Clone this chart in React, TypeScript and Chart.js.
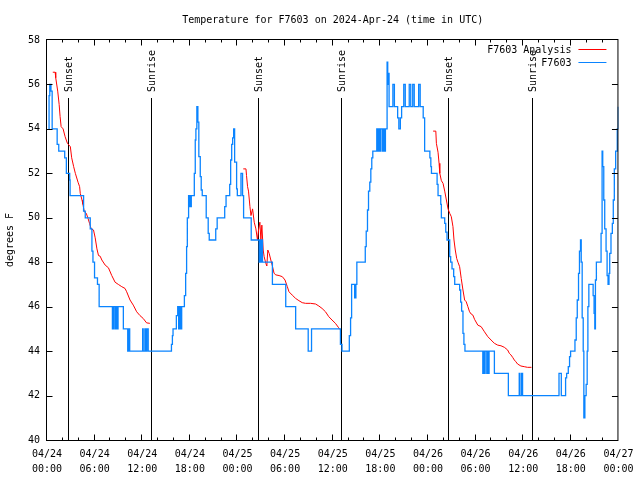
import React, { useEffect, useRef } from "react";
import { Chart, registerables } from "chart.js";

Chart.register(...registerables);

const TITLE = "Temperature for F7603 on 2024-Apr-24 (time in UTC)";
const Y_LABEL = "degrees F";
const SERIES_NAMES = ["F7603 Analysis", "F7603"];
const SERIES_COLORS = ["#ff0000", "#0a84ff"];

const X_TICK_DATES = ["04/24", "04/24", "04/24", "04/24", "04/25", "04/25", "04/25", "04/25", "04/26", "04/26", "04/26", "04/26", "04/27"];
const X_TICK_TIMES = ["00:00", "06:00", "12:00", "18:00", "00:00", "06:00", "12:00", "18:00", "00:00", "06:00", "12:00", "18:00", "00:00"];

// hours since 2024-04-24 00:00 UTC
const SUN_TIMES = [2.73, 13.25, 26.65, 37.17, 50.65, 61.21];
const SUN_LABELS = ["Sunset", "Sunrise", "Sunset", "Sunrise", "Sunset", "Sunrise"];
const SUN_LINE_TOP = 55.4;

// Observations (F7603): value changes at these hours
const OBS_TIMES = [
  0.23, 0.26, 0.35, 0.5, 0.65, 1.28, 1.48, 2.23, 2.44, 2.86, 2.91, 4.61, 4.82, 5.45, 5.66, 5.79, 5.99, 6.36, 6.57, 8.24,
  8.36, 8.54, 8.67, 8.83, 8.95, 9.62, 10.17, 10.29, 10.42, 12.05, 12.12, 12.33, 12.46, 12.58, 12.75,
  15.68, 15.8, 15.88, 16.3, 16.47, 16.59, 16.72, 16.84, 16.97, 17.31, 17.47, 17.59, 17.68, 17.84, 17.93, 18.01, 18.09,
  18.18, 18.56, 18.68, 18.76, 18.88, 19.01, 19.13, 19.31, 19.43, 19.56, 20.06, 20.31, 20.44, 21.26, 21.44, 22.39, 22.56,
  23.02, 23.14, 23.27, 23.39, 23.52, 23.64, 23.89, 23.98, 24.44, 24.64, 24.77,
  25.73, 26.73, 26.82, 26.95, 27.02, 27.15, 28.4, 30.08, 31.33, 32.91, 33.33, 36.97, 37.17, 38.09, 38.25, 38.38, 38.76,
  38.92, 39.04, 40.1, 40.22, 40.38, 40.51, 40.67, 40.8, 40.92, 41.05, 41.55, 41.67, 41.8, 41.92, 42.05, 42.26, 42.39,
  42.51, 42.64, 42.85, 42.93, 43.01, 43.1,
  43.58, 43.77, 44.18, 44.33, 44.52, 44.68, 44.95, 45.14, 45.64, 45.83, 46.08, 46.27, 46.83, 47.02, 47.4, 47.58, 48.24,
  48.36, 48.44, 49.15, 49.27, 49.61, 49.69, 50.11, 50.24, 50.4, 50.74, 50.86, 51.03, 51.24, 51.37, 51.99, 52.12, 52.24,
  52.41, 52.53, 52.66,
  54.91, 55.0, 55.12, 55.2, 55.41, 55.5, 55.62, 55.7, 56.37, 58.13, 59.5, 59.58, 59.79, 59.92, 64.51, 64.8, 65.34, 65.47,
  65.68, 65.84, 65.97, 66.52, 66.68, 66.81, 66.97, 67.09, 67.22, 67.31, 67.43, 67.56, 67.64, 67.77, 67.93, 68.06, 68.15,
  68.27, 68.81, 68.93, 69.02, 69.1, 69.22, 69.81, 69.94, 70.02, 70.15, 70.27, 70.44, 70.57, 70.69, 70.81, 70.9, 71.06,
  71.23, 71.35, 71.48, 71.65, 71.85, 71.98,
];
const OBS_TEMPS = [
  54, 55.5, 56, 55.7, 54, 53.3, 53, 52.7, 52, 51.7, 51, 50.3, 50, 49.5, 48.5, 48, 47.3, 47, 46, 45,
  46, 45, 46, 45, 46, 45, 44, 45, 44, 45, 44, 45, 44, 45, 44,
  44.3, 44.7, 45, 45.6, 46, 45, 46, 45, 46, 46.5, 47.5, 48.7, 50, 51, 50.5, 51, 50.5,
  51, 52, 53.5, 54, 55, 54.3, 52.75, 51.85, 51.25, 51, 50, 49.3, 49, 49.5, 50, 50.5, 51,
  51.5, 52.6, 53.3, 53.6, 54, 52.5, 51.3, 51, 52, 51, 50,
  49, 48, 49, 48, 49, 48, 47, 46, 45, 44, 45, 44.3, 44, 44.7, 45.5, 47, 46.4,
  47, 48, 48.7, 49.4, 50.35, 51.2, 51.6, 52.2, 52.7, 53, 54, 53, 54, 53, 54, 53, 54,
  53, 54, 57, 56, 56.5, 55,
  56, 55, 54.5, 54, 54.5, 55, 56, 55, 56, 55, 56, 55, 56, 55, 54.5, 53, 52.7,
  52.3, 52, 51.5, 51, 50.6, 50, 49.75, 49.35, 49, 48.25, 48, 47.7, 47.35, 47, 46.75, 46.2, 45.8,
  44.8, 44.3, 44,
  43, 44, 43, 44, 43, 44, 43, 44, 43, 42, 43, 42, 43, 42, 43, 42, 42.8, 43,
  43.3, 43.75, 44, 44.5, 45.5, 46.3, 47.5, 48.5, 49, 48, 45.5, 44, 41, 42, 42.5, 44, 46,
  47, 46.5, 45.7, 45, 47.2, 48, 49.3, 53, 52.3, 50.8, 49.5, 48.5, 47.4, 47, 47.5, 48.4, 49.3,
  49.75, 50.8, 52.2, 53, 54, 55,
];

// Analysis (F7603 Analysis), three evening runs
const ANA1_TIMES = [0.73, 1.03, 1.1, 1.35, 1.53, 1.65, 1.78, 2.03, 2.28, 2.57, 2.94, 3.11, 3.36, 3.57, 3.91, 4.11, 4.19, 4.41, 4.53, 4.7, 4.95, 5.16, 5.36, 5.57, 5.86, 6.07, 6.29, 6.49, 6.7, 6.91, 7.33, 7.74, 8.16, 8.58, 8.99, 9.42, 9.83, 10.04, 10.46, 10.87, 11.3, 11.71, 12.12, 12.55, 12.96];
const ANA1_TEMPS = [56.55, 56.55, 56.3, 55.7, 55.1, 54.55, 54.1, 54.0, 53.65, 53.35, 53.2, 52.7, 52.3, 52.0, 51.6, 51.4, 51.1, 50.8, 50.6, 50.27, 50.2, 49.98, 49.75, 49.5, 49.45, 49.1, 48.6, 48.3, 48.27, 48.1, 47.87, 47.75, 47.4, 47.1, 47.0, 46.9, 46.82, 46.67, 46.3, 46.07, 45.77, 45.6, 45.47, 45.27, 45.25];
const ANA2_TIMES = [24.73, 25.07, 25.14, 25.27, 25.39, 25.57, 25.7, 25.9, 26.11, 26.32, 26.52, 26.65, 26.82, 26.95, 27.07, 27.24, 27.36, 27.57, 27.7, 27.82, 27.99, 28.2, 28.4, 28.61, 28.83, 29.24, 29.65, 29.99, 30.28, 30.49, 30.9, 31.33, 31.74, 32.16, 32.58, 33.21, 33.84, 34.25, 34.66, 35.09, 35.5, 35.91, 36.34, 36.75, 36.88];
const ANA2_TEMPS = [52.2, 52.2, 51.9, 51.4, 51.2, 50.5, 50.1, 50.4, 49.8, 49.5, 49.0, 49.45, 49.8, 49.0, 49.67, 48.55, 48.25, 47.95, 47.83, 48.55, 48.4, 48.1, 47.83, 47.5, 47.43, 47.4, 47.35, 47.2, 46.9, 46.67, 46.52, 46.37, 46.27, 46.18, 46.15, 46.15, 46.12, 46.03, 45.92, 45.77, 45.55, 45.4, 45.25, 45.05, 44.98];
const ANA3_TIMES = [48.65, 48.99, 49.06, 49.27, 49.4, 49.49, 49.69, 49.9, 50.11, 50.32, 50.53, 50.74, 50.94, 51.15, 51.28, 51.44, 51.62, 51.78, 51.99, 52.19, 52.41, 52.62, 52.82, 53.03, 53.24, 53.44, 53.66, 53.87, 54.28, 54.7, 55.12, 55.54, 55.95, 56.37, 56.79, 57.2, 57.63, 58.04, 58.25, 58.45, 58.67, 58.88, 59.08, 59.29, 59.71, 60.13, 60.54, 61.04];
const ANA3_TEMPS = [53.9, 53.9, 53.35, 52.95, 52.45, 52.0, 51.67, 51.55, 51.2, 50.8, 50.4, 50.2, 50.05, 49.6, 49.0, 48.55, 48.17, 48.0, 47.8, 47.27, 46.75, 46.3, 46.22, 46.0, 45.77, 45.67, 45.62, 45.43, 45.17, 45.1, 44.87, 44.65, 44.5, 44.35, 44.27, 44.24, 44.17, 44.05, 43.9, 43.83, 43.72, 43.6, 43.52, 43.42, 43.33, 43.3, 43.27, 43.27];

const FONT = "'DejaVu Sans Mono', monospace";

const pts = (t: number[], v: number[]) => t.map((x, i) => ({ x, y: v[i] as number | null }));

const framePlugin = {
  id: "gnuFrame",
  beforeDatasetsDraw(chart: any) {
    const { ctx, chartArea: a, scales } = chart;
    const x = scales.x, y = scales.y;
    ctx.save();
    ctx.strokeStyle = "#000";
    ctx.fillStyle = "#000";
    ctx.lineWidth = 1;
    ctx.font = `10px ${FONT}`;
    const yTop = Math.round(y.getPixelForValue(SUN_LINE_TOP));
    SUN_TIMES.forEach((t, i) => {
      const px = Math.round(x.getPixelForValue(t)) - 0.5;
      ctx.beginPath();
      ctx.moveTo(px, yTop);
      ctx.lineTo(px, a.bottom);
      ctx.stroke();
      ctx.save();
      ctx.translate(px + 1, yTop - 6);
      ctx.rotate(-Math.PI / 2);
      ctx.textAlign = "left";
      ctx.textBaseline = "middle";
      ctx.fillText(SUN_LABELS[i], 0, 0);
      ctx.restore();
    });
    ctx.restore();
  },
  afterDatasetsDraw(chart: any) {
    const { ctx, chartArea: a, scales } = chart;
    const x = scales.x, y = scales.y;
    ctx.save();
    ctx.strokeStyle = "#000";
    ctx.lineWidth = 1;
    ctx.strokeRect(a.left - 0.5, a.top - 0.5, a.right - a.left, a.bottom - a.top + 1);
    ctx.beginPath();
    for (let h = 2; h < 72; h += 2) {
      const len = h % 6 === 0 ? 6 : 3;
      const px = Math.round(x.getPixelForValue(h)) - 0.5;
      ctx.moveTo(px, a.bottom + 0.5);
      ctx.lineTo(px, a.bottom + 0.5 - len);
      ctx.moveTo(px, a.top - 0.5);
      ctx.lineTo(px, a.top - 0.5 + len);
    }
    for (let v = 42; v < 58; v += 2) {
      const py = Math.round(y.getPixelForValue(v)) + 0.5;
      ctx.moveTo(a.left - 0.5, py);
      ctx.lineTo(a.left - 0.5 + 6, py);
      ctx.moveTo(a.right - 0.5, py);
      ctx.lineTo(a.right - 0.5 - 6, py);
    }
    ctx.stroke();

    // legend (top right, inside)
    ctx.font = `10px ${FONT}`;
    ctx.fillStyle = "#000";
    ctx.textAlign = "right";
    ctx.textBaseline = "middle";
    SERIES_NAMES.forEach((name, i) => {
      const ly = a.top + 10 + i * 13;
      ctx.fillText(name, a.right - 47, ly);
      ctx.strokeStyle = SERIES_COLORS[i];
      ctx.beginPath();
      ctx.moveTo(a.right - 40, ly - 0.5);
      ctx.lineTo(a.right - 12, ly - 0.5);
      ctx.stroke();
    });
    ctx.restore();
  },
};

export default function App() {
  const ref = useRef<HTMLCanvasElement | null>(null);
  useEffect(() => {
    document.body.style.margin = "0";
    const canvas = ref.current;
    if (!canvas) return;
    const analysis = [
      ...pts(ANA1_TIMES, ANA1_TEMPS),
      { x: 13.5, y: null },
      ...pts(ANA2_TIMES, ANA2_TEMPS),
      { x: 37.5, y: null },
      ...pts(ANA3_TIMES, ANA3_TEMPS),
    ];
    const chart = new Chart(canvas, {
      type: "line",
      data: {
        datasets: [
          {
            label: SERIES_NAMES[1],
            data: pts(OBS_TIMES, OBS_TEMPS),
            borderColor: SERIES_COLORS[1],
            borderWidth: 1.3,
            stepped: true,
            pointRadius: 0,
            fill: false,
          },
          {
            label: SERIES_NAMES[0],
            data: analysis,
            borderColor: SERIES_COLORS[0],
            borderWidth: 1,
            pointRadius: 0,
            spanGaps: false,
            fill: false,
          },
        ],
      },
      options: {
        animation: false,
        responsive: false,
        layout: { padding: { top: 0, right: 18, bottom: 0, left: 0 } },
        plugins: {
          legend: { display: false },
          tooltip: { enabled: false },
          title: {
            display: true,
            fullSize: false,
            text: TITLE,
            color: "#000",
            font: { family: FONT, size: 10, weight: "normal", lineHeight: 1.2 },
            padding: { top: 14, bottom: 14 },
          },
        },
        scales: {
          x: {
            type: "linear",
            min: 0,
            max: 72,
            grid: { display: false, drawTicks: false },
            border: { display: false },
            ticks: {
              stepSize: 6,
              autoSkip: false,
              maxRotation: 0,
              minRotation: 0,
              padding: 6.5,
              color: "#000",
              font: { family: FONT, size: 10, lineHeight: 1.5 },
              callback: (_v: any, i: number) => [X_TICK_DATES[i], X_TICK_TIMES[i]],
            },
            afterFit: (s: any) => {
              s.height = 40;
            },
          },
          y: {
            min: 40,
            max: 58,
            grid: { display: false, drawTicks: false },
            border: { display: false },
            ticks: {
              stepSize: 2,
              padding: 7,
              color: "#000",
              font: { family: FONT, size: 10 },
            },
            title: {
              display: true,
              text: Y_LABEL,
              color: "#000",
              font: { family: FONT, size: 10, lineHeight: 1.2 },
              padding: { top: 4, bottom: 0 },
            },
            afterFit: (s: any) => {
              s.width = 47;
            },
          },
        },
      },
      plugins: [framePlugin],
    } as any);
    return () => chart.destroy();
  }, []);
  return (
    <div style={{ width: 640, height: 480, background: "#fff" }}>
      <canvas ref={ref} width={640} height={480} />
    </div>
  );
}
